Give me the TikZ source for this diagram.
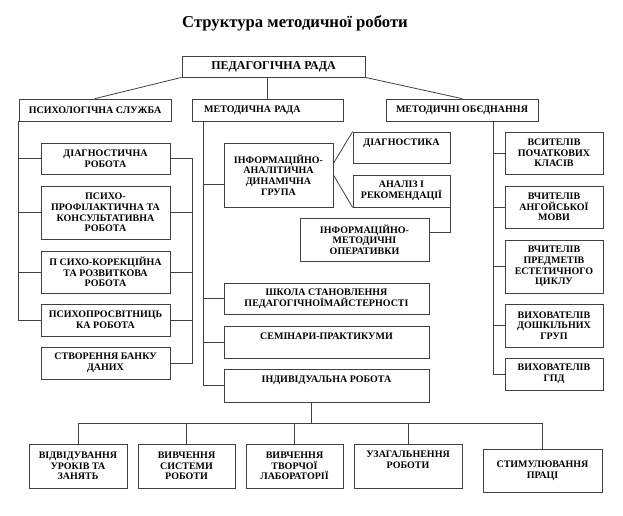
\documentclass[tikz,border=0pt]{standalone}
\usepackage{fontspec}
\setmainfont{Liberation Serif}
\usetikzlibrary{calc}
\newcommand\boxfont{\fontsize{7.5}{8}\selectfont\bfseries}
\newcommand\titlefont{\fontsize{12.5}{14}\selectfont\bfseries}
\tikzset{
    box/.style={draw=black!75, line width=0.6pt, fill=white, align=center, inner sep=1pt, font=\boxfont},
    boxsize/.style 2 args={minimum width=#1*0.75pt, minimum height=#2*0.75pt},
    toptext/.style={label={[anchor=north, align=center, font=\boxfont, yshift=-2pt]north:#1}},
    link/.style={draw=black!75, line width=0.6pt}
}
\begin{document}
\begin{tikzpicture}[x=0.75pt,y=-0.75pt]
        \useasboundingbox (0,0) rectangle (623,515);

        \node[font=\titlefont] (title) at (295,23) {Структура методичної роботи};

        \node[box, boxsize={183}{21}, font=\fontsize{9}{10}\selectfont\bfseries] (ped) at (273.5,66.5) {ПЕДАГОГІЧНА РАДА};
        \node[box, boxsize={152}{22}] (psych) at (95,110) {ПСИХОЛОГІЧНА СЛУЖБА};
        \node[box, boxsize={151}{22}, inner xsep=9pt, text width=95pt, align=left] (metrada) at (267.5,110) {МЕТОДИЧНА РАДА};
        \node[box, boxsize={152}{22}] (metob) at (462,110) {МЕТОДИЧНІ ОБЄДНАННЯ};

        \node[box, boxsize={129}{31}] (diagrob) at (105.5,158.5) {ДІАГНОСТИЧНА\\РОБОТА};
        \node[box, boxsize={129}{53}] (profil) at (105.5,212.5) {ПСИХО-\\ПРОФІЛАКТИЧНА ТА\\КОНСУЛЬТАТИВНА\\РОБОТА};
        \node[box, boxsize={129}{42}] (korek) at (105.5,272) {П СИХО-КОРЕКЦІЙНА\\ТА РОЗВИТКОВА\\РОБОТА};
        \node[box, boxsize={129}{32}] (prosv) at (105.5,320) {ПСИХОПРОСВІТНИЦЬ\\КА РОБОТА};
        \node[box, boxsize={129}{32}] (bank) at (105.5,363) {СТВОРЕННЯ БАНКУ\\ДАНИХ};

        \node[box, boxsize={109}{64}] (infan) at (278.5,175) {ІНФОРМАЦІЙНО-\\АНАЛІТИЧНА\\ДИНАМІЧНА\\ГРУПА};
        \node[box, boxsize={97}{31}, toptext={ДІАГНОСТИКА}] (diagn) at (401.5,147.5) {};
        \node[box, boxsize={97}{32}] (analiz) at (401.5,191) {АНАЛІЗ І\\РЕКОМЕНДАЦІЇ};
        \node[box, boxsize={129}{43}] (operat) at (364.5,239.5) {ІНФОРМАЦІЙНО-\\МЕТОДИЧНІ\\ОПЕРАТИВКИ};
        \node[box, boxsize={205}{31}] (shkola) at (326.5,298.5) {ШКОЛА СТАНОВЛЕННЯ\\ПЕДАГОГІЧНОЇМАЙСТЕРНОСТІ};
        \node[box, boxsize={205}{32}, toptext={СЕМІНАРИ-ПРАКТИКУМИ}] (semin) at (326.5,342) {};
        \node[box, boxsize={205}{33}, toptext={ІНДИВІДУАЛЬНА РОБОТА}] (indyv) at (326.5,385.5) {};

        \node[box, boxsize={98}{42}] (pochat) at (554,153) {ВСИТЕЛІВ\\ПОЧАТКОВИХ\\КЛАСІВ};
        \node[box, boxsize={98}{42}] (angl) at (554,207) {ВЧИТЕЛІВ\\АНГОЙСЬКОЇ\\МОВИ};
        \node[box, boxsize={98}{53}] (estet) at (554,266.5) {ВЧИТЕЛІВ\\ПРЕДМЕТІВ\\ЕСТЕТИЧНОГО\\ЦИКЛУ};
        \node[box, boxsize={98}{43}] (doshk) at (554,325.5) {ВИХОВАТЕЛІВ\\ДОШКІЛЬНИХ\\ГРУП};
        \node[box, boxsize={98}{32}] (gpd) at (554,374) {ВИХОВАТЕЛІВ\\ГПД};

        \node[box, boxsize={98}{44}] (vidv) at (78,466) {ВІДВІДУВАННЯ\\УРОКІВ ТА\\ЗАНЯТЬ};
        \node[box, boxsize={97}{44}] (system) at (186.5,466) {ВИВЧЕННЯ\\СИСТЕМИ\\РОБОТИ};
        \node[box, boxsize={97}{44}] (tvorch) at (294.5,466) {ВИВЧЕННЯ\\ТВОРЧОЇ\\ЛАБОРАТОРІЇ};
        \node[box, boxsize={108}{44}, toptext={УЗАГАЛЬНЕННЯ\\РОБОТИ}] (uzag) at (408,466) {};
        \node[box, boxsize={119}{43}] (stym) at (542.5,470.5) {СТИМУЛЮВАННЯ\\ПРАЦІ};

        \coordinate (pbus) at (192,0);
        \coordinate (mbus) at (203,121);
        \coordinate (obus) at (493,121);
        \coordinate (bbus) at (0,423);

        \draw[link] (ped.south west) -- (psych.north);
        \draw[link] (metrada.north) -- (metrada.north |- ped.south);
        \draw[link] (ped.south east) -- (metob.north);

        \draw[link] (psych.south west) |- (prosv.west);
        \foreach \b in {diagrob,profil,korek}
            \draw[link] (psych.south west |- \b.west) -- (\b.west);
        \draw[link] (diagrob.east) -- (diagrob.east -| pbus) -- (bank.east -| pbus) -- (bank.east);
        \foreach \b in {profil,korek,prosv}
            \draw[link] (\b.east) -- (\b.east -| pbus);

        \draw[link] (mbus) |- (indyv.west);
        \draw[link] (mbus |- infan.190) -- (infan.190);
        \foreach \b in {shkola,semin}
            \draw[link] (mbus |- \b.west) -- (\b.west);
        \draw[link] (infan.12) -- (diagn.north west);
        \draw[link] (infan.east) -- (analiz.south west);
        \draw[link] (operat.6) -| (analiz.south east);

        \draw[link] (obus) |- (gpd.west);
        \foreach \b in {pochat,angl,estet,doshk}
            \draw[link] (obus |- \b.west) -- (\b.west);

        \draw[link] ($(indyv.south)+(-15.5,0)$) -- ($(indyv.south |- bbus)+(-15.5,0)$);
        \draw[link] (vidv.north |- bbus) -- (stym.north |- bbus);
        \foreach \b in {vidv,system,tvorch,uzag,stym}
            \draw[link] (\b.north |- bbus) -- (\b.north);

    \end{tikzpicture}
\end{document}
